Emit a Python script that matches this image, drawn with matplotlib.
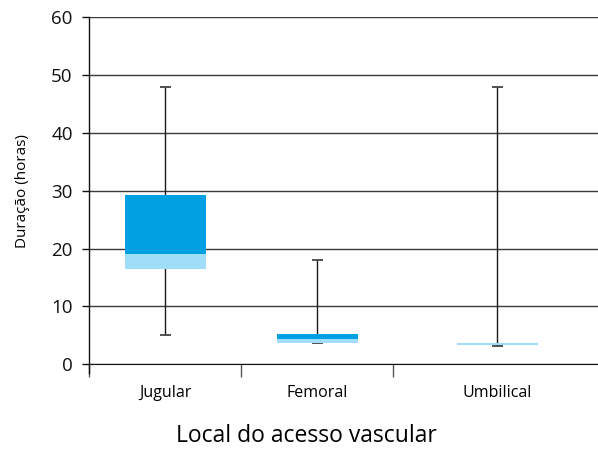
import matplotlib
matplotlib.use("Agg")
import matplotlib.pyplot as plt
import numpy as np

categories = ["Jugular", "Femoral", "Umbilical"]
minimum = [5.0, 3.6, 3.2]
q1 = [16.5, 3.7, 3.4]
median = [19.1, 4.4, 3.75]
q3 = [29.3, 5.3, 3.75]
maximum = [48.0, 18.0, 48.0]
yticks = [0, 10, 20, 30, 40, 50, 60]

plt.rcParams['font.family'] = ['Open Sans', 'DejaVu Sans']

fig = plt.figure(figsize=(5.98, 4.5), dpi=100)
ax = fig.add_axes([89.3/598, 85.7/450, 1 - 89.3/598, (364.3-17.3)/450])

# category layout (third category is wider in the reference)
centers = np.array([0.5, 1.5, 2.685])
box_w = 0.53
dark = "#00A0E3"
light = "#A0DDF8"

ax.set_ylim(0, 60)
ax.set_xlim(0, (598 - 89.3) / 152)
ax.set_yticks(yticks)
ax.yaxis.grid(True, color="#3a3a3a", linewidth=1.0)
ax.set_axisbelow(True)

for i, c in enumerate(centers):
    # whiskers
    ax.vlines(c, minimum[i], maximum[i], color="#1a1a1a", linewidth=1.0, zorder=2)
    ax.hlines([minimum[i], maximum[i]], c - 0.035, c + 0.035, color="#444444", linewidth=1.3, zorder=2)
    # box: lower (Q1-median) light, upper (median-Q3) dark
    ax.bar(c, median[i] - q1[i], bottom=q1[i], width=box_w, color=light, zorder=3)
    ax.bar(c, q3[i] - median[i], bottom=median[i], width=box_w, color=dark, zorder=3)

ax.set_xticks([0, 1, 2])
ax.set_xticklabels([])
ax.set_xticks(centers, minor=True)
ax.set_xticklabels(categories, minor=True, fontsize=11.5)
ax.tick_params(axis="x", which="major", direction="out", length=9, width=1, color="#555555")
ax.tick_params(axis="x", which="minor", length=0, pad=15)
ax.tick_params(axis="y", direction="out", length=5, width=1, color="#111111", labelsize=13.5, pad=7)
for lbl in ax.get_yticklabels():
    lbl.set_color("#111111")

for s in ["top", "right"]:
    ax.spines[s].set_visible(False)
ax.spines["left"].set_color("#111111")
ax.spines["bottom"].set_color("#111111")
ax.spines["left"].set_bounds(-1.5, 60)
ax.spines["left"].set_linewidth(1.0)

ax.set_ylabel("Duração (horas)", fontsize=11, labelpad=15)
fig.text(0.512, 0.005, "Local do acesso vascular", ha="center", va="bottom", fontsize=16.5)

fig.savefig("out.png", dpi=100)
